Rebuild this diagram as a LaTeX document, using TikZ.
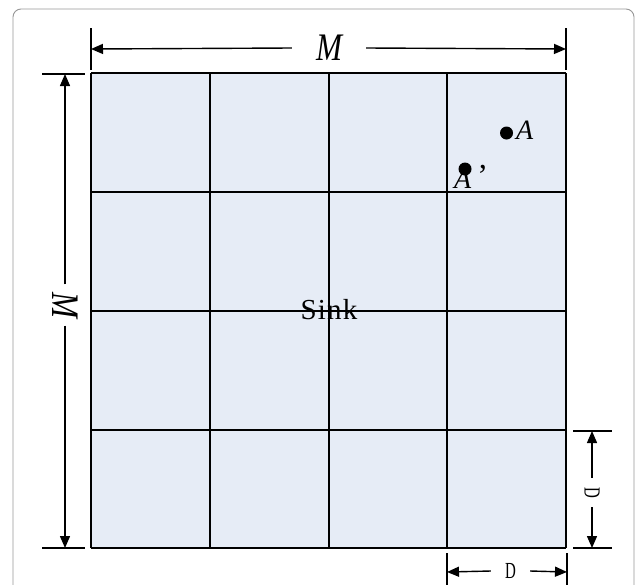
\documentclass[tikz,border=0pt]{standalone}
\usepackage{fontspec}
\setmainfont{Liberation Serif}
\usetikzlibrary{arrows.meta}
\definecolor{cellfill}{RGB}{230,236,246}
\definecolor{framegray}{RGB}{150,150,150}
\begin{document}
\begin{tikzpicture}[x=1pt,y=-1pt,
  gridline/.style={line width=1.7pt},
  dimline/.style={line width=1.4pt},
  dimarrow/.style={dimline,-{Triangle[length=12pt,width=10pt]}},
  dimlabel/.style={inner sep=0pt, minimum height=10pt},
  dotnode/.style={circle, fill=black, inner sep=0pt, minimum size=13pt},
  bigM/.style={dimlabel, font=\fontsize{39}{39}\selectfont},
  smallD/.style={dimlabel, font=\fontsize{23}{23}\selectfont}]
\useasboundingbox (0,0) rectangle (639,584);
% frame
\draw[framegray, line width=0.9pt, rounded corners=8pt] (13,9) rectangle (634,620);
% grid
\fill[cellfill] (91,73) rectangle (566,548);
\foreach \p in {91,210,329,447,566} {
  \draw[gridline] (\p,73) -- (\p,548);
}
\foreach \p in {73,192,311,430,548} {
  \draw[gridline] (91,\p) -- (566,\p);
}
\node[font=\fontsize{29}{29}\selectfont\addfontfeature{LetterSpace=4}] (sink) at (329,310) {Sink};
% points
\node[dotnode] (A) at (506.5,133) {};
\node[anchor=west, inner sep=0pt, font=\fontsize{28}{28}\selectfont\itshape] (Alab) at (516,130) {A};
\node[dotnode] (Ap) at (465,169) {};
\node[anchor=base west, inner sep=0pt, font=\fontsize{28}{28}\selectfont] (Aplab) at (454,188) {\textit{A}\hspace{6pt}\raisebox{2pt}{\fontsize{32}{32}\selectfont’}};
% top dimension
\coordinate (T1) at (91,49);
\coordinate (T2) at (566,49);
\draw[dimline] (91,28) -- (91,70);
\draw[dimline] (566,28) -- (566,70);
\node[bigM, minimum width=74pt] (Mt) at (329,48) {\scalebox{0.8}[1]{\itshape M}};
\draw[dimarrow] (Mt.west) -- (T1);
\draw[dimarrow] (Mt.east) -- (T2);
% left dimension
\coordinate (L1) at (65,74);
\coordinate (L2) at (65,548);
\draw[dimline] (42,74) -- (85,74);
\draw[dimline] (42,548) -- (85,548);
\node[bigM, minimum width=41pt, rotate=-90] (Ml) at (65,305) {\scalebox{0.8}[1]{\itshape M}};
\draw[dimarrow] (Ml.west) -- (L1);
\draw[dimarrow] (Ml.east) -- (L2);
% right dimension D
\coordinate (R1) at (592,431);
\coordinate (R2) at (592,548);
\draw[dimline] (573,431) -- (612,431);
\draw[dimline] (573,548) -- (612,548);
\node[smallD, minimum width=29pt, rotate=-90] (Dr) at (592,492.5) {\scalebox{0.65}[1]{D}};
\draw[dimarrow] (Dr.west) -- (R1);
\draw[dimarrow] (Dr.east) -- (R2);
% bottom dimension D
\coordinate (B1) at (447,572);
\coordinate (B2) at (567,572);
\draw[dimline] (447,553) -- (447,600);
\draw[dimline] (567,553) -- (567,600);
\node[smallD, minimum width=39pt] (Db) at (510.5,571) {\scalebox{0.65}[1]{D}};
\draw[dimarrow] (Db.west) -- (B1);
\draw[dimarrow] (Db.east) -- (B2);
\end{tikzpicture}
\end{document}
